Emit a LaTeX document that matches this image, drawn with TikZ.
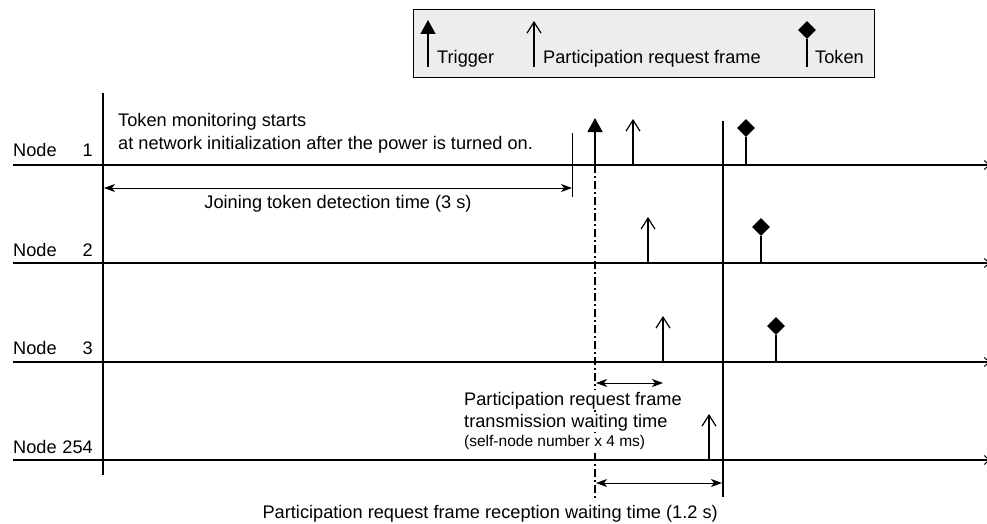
\documentclass[tikz,border=0pt]{standalone}
\usepackage{fontspec}
\setmainfont{Liberation Sans}
\usetikzlibrary{arrows.meta,shapes.geometric}

\tikzset{
  txt/.style={inner sep=0pt, font=\fontsize{18.2}{22}\selectfont},
  smalltxt/.style={inner sep=0pt, font=\fontsize{15.5}{18}\selectfont},
  masked/.style={fill=white, inner xsep=2pt, inner ysep=1.5pt},
  timeline/.style={line width=1.6pt, -{Straight Barb[length=5pt,width=9pt,line width=1pt]}},
  axis/.style={line width=1.6pt},
  stem/.style={line width=1.2pt},
  trigarrow/.style={line width=1.5pt, -{Triangle[length=14pt,width=15pt]}},
  reqarrow/.style={line width=1.2pt, -{Straight Barb[length=11pt,width=14pt,line width=1.2pt]}},
  token/.style={diamond, aspect=1, fill=black, draw=none, inner sep=0pt, minimum width=18pt, minimum height=18pt},
  dimarrow/.style={line width=1pt, {Stealth[length=11pt,width=8pt,inset=3pt]}-{Stealth[length=11pt,width=8pt,inset=3pt]}},
  dashdot/.style={line width=1.1pt, dash pattern=on 8pt off 3pt on 2pt off 3pt},
  legendbox/.style={draw=black, line width=0.8pt, fill=black!7}
}

\begin{document}
\begin{tikzpicture}[x=1pt, y=-1pt]
\useasboundingbox (0,0) rectangle (987,524);

% ---------- legend ----------
\node[legendbox, minimum width=461pt, minimum height=68pt, anchor=north west] (legend) at (413,9) {};
\coordinate (lgTb) at (428,67);  \coordinate (lgTt) at (428,20);
\draw[trigarrow] (lgTb) -- (lgTt);
\node[txt, anchor=base west] (lgTtxt) at (437,64) {Trigger};
\coordinate (lgRb) at (534,67);  \coordinate (lgRt) at (534,21);
\draw[reqarrow] (lgRb) -- (lgRt);
\node[txt, anchor=base west] (lgRtxt) at (543,64) {Participation request frame};
\coordinate (lgKb) at (807,67);
\node[token] (lgK) at (807,30) {};
\draw[stem] (lgKb) -- (lgK.south);
\node[txt, anchor=base west] (lgKtxt) at (815,64) {Token};

% ---------- time lines ----------
\coordinate (l1s) at (13,165);  \coordinate (l1e) at (990,165);
\coordinate (l2s) at (13,263);  \coordinate (l2e) at (990,263);
\coordinate (l3s) at (13,362);  \coordinate (l3e) at (990,362);
\coordinate (l4s) at (13,460);  \coordinate (l4e) at (990,460);
\draw[timeline] (l1s) -- (l1e);
\draw[timeline] (l2s) -- (l2e);
\draw[timeline] (l3s) -- (l3e);
\draw[timeline] (l4s) -- (l4e);

\node[txt, anchor=base west] (n1a) at (13,157) {Node};
\node[txt, anchor=base east] (n1b) at (93,157) {1};
\node[txt, anchor=base west] (n2a) at (13,256) {Node};
\node[txt, anchor=base east] (n2b) at (93,256) {2};
\node[txt, anchor=base west] (n3a) at (13,354) {Node};
\node[txt, anchor=base east] (n3b) at (93,354) {3};
\node[txt, anchor=base west] (n4a) at (13,453) {Node};
\node[txt, anchor=base east] (n4b) at (93,453) {254};

% power-on axis
\coordinate (axT) at (103,93); \coordinate (axB) at (103,475);
\draw[axis] (axT) -- (axB);

\node[txt, anchor=base west] (mon1) at (118,126) {Token monitoring starts};
\node[txt, anchor=base west] (mon2) at (118,149) {at network initialization after the power is turned on.};

% joining token detection time
\coordinate (jT) at (572,133); \coordinate (jB) at (572,197);
\draw[line width=1pt] (jT) -- (jB);
\coordinate (jL) at (104,188); \coordinate (jR) at (572,188);
\draw[dimarrow] (jL) -- (jR);
\node[txt, anchor=base] (jtxt) at (338,208) {Joining token detection time (3 s)};

% trigger on node 1 and the dash-dotted reference
\coordinate (trB) at (595,165); \coordinate (trT) at (595,118);
\draw[trigarrow] (trB) -- (trT);
\coordinate (ddB) at (595,498);
\draw[dashdot] (trB) -- (ddB);

% reception deadline
\coordinate (rvT) at (723,121); \coordinate (rvB) at (723,497);
\draw[axis] (rvT) -- (rvB);

% participation request frames
\coordinate (r1b) at (633,165); \coordinate (r1t) at (633,119);
\coordinate (r2b) at (648,263); \coordinate (r2t) at (648,217);
\coordinate (r3b) at (663,362); \coordinate (r3t) at (663,316);
\coordinate (r4b) at (709,460); \coordinate (r4t) at (709,414);
\draw[reqarrow] (r1b) -- (r1t);
\draw[reqarrow] (r2b) -- (r2t);
\draw[reqarrow] (r3b) -- (r3t);
\draw[reqarrow] (r4b) -- (r4t);

% tokens
\coordinate (k1b) at (746,165); \node[token] (k1) at (746,128) {};
\coordinate (k2b) at (761,263); \node[token] (k2) at (761,227) {};
\coordinate (k3b) at (776,362); \node[token] (k3) at (776,326) {};
\draw[stem] (k1b) -- (k1.south);
\draw[stem] (k2b) -- (k2.south);
\draw[stem] (k3b) -- (k3.south);

% transmission waiting time (label masks the dash-dotted line)
\coordinate (twL) at (596,383); \coordinate (twR) at (663,383);
\draw[dimarrow] (twL) -- (twR);
\node[txt, masked, anchor=base west] (tw1) at (462,405) {Participation request frame};
\node[txt, masked, anchor=base west] (tw2) at (462,427) {transmission waiting time};
\node[smalltxt, masked, anchor=base west] (tw3) at (462,446) {(self-node number x 4 ms)};

% reception waiting time
\coordinate (rwL) at (596,483); \coordinate (rwR) at (722,483);
\draw[dimarrow] (rwL) -- (rwR);
\node[txt, anchor=base east] (rwtxt) at (718,518) {Participation request frame reception waiting time (1.2 s)};
\end{tikzpicture}
\end{document}
